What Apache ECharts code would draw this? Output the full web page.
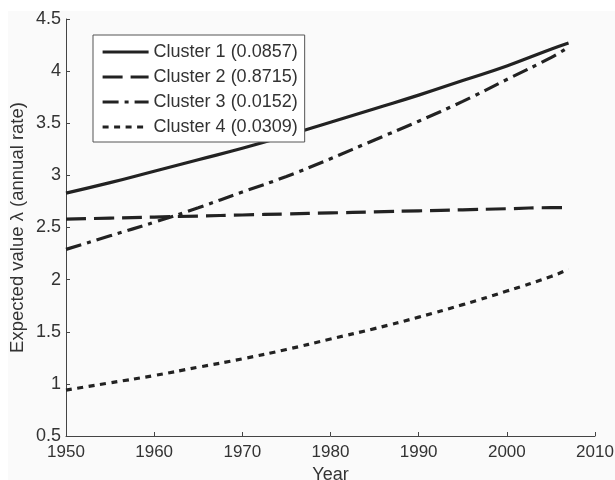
<!DOCTYPE html>
<html>
<head>
<meta charset="utf-8">
<script src="https://cdn.jsdelivr.net/npm/echarts@6/dist/echarts.min.js"></script>
<style>html,body{margin:0;padding:0;background:#fff}#c{width:615px;height:480px}</style>
</head>
<body>
<div id="c"></div>
<script>
const years = [1950, 1955, 1960, 1965, 1970, 1975, 1980, 1985, 1990, 1995, 2000, 2005, 2007];
const cluster1 = [2.83, 2.93, 3.04, 3.15, 3.26, 3.38, 3.51, 3.64, 3.77, 3.91, 4.05, 4.21, 4.27];
const cluster2 = [2.58, 2.59, 2.60, 2.61, 2.62, 2.63, 2.64, 2.65, 2.66, 2.67, 2.68, 2.69, 2.69];
const cluster3 = [2.29, 2.42, 2.55, 2.69, 2.84, 2.99, 3.16, 3.34, 3.52, 3.71, 3.92, 4.13, 4.23];
const cluster4 = [0.94, 1.01, 1.08, 1.16, 1.24, 1.33, 1.43, 1.53, 1.64, 1.76, 1.89, 2.03, 2.10];
const seriesNames = ['Cluster 1 (0.0857)', 'Cluster 2 (0.8715)', 'Cluster 3 (0.0152)', 'Cluster 4 (0.0309)'];
const xTicks = [1950, 1960, 1970, 1980, 1990, 2000, 2010];
const yTicks = [0.5, 1, 1.5, 2, 2.5, 3, 3.5, 4, 4.5];

const allValues = [cluster1, cluster2, cluster3, cluster4];
const dashes = ['solid', [20, 8], [16, 6, 4, 6], [6, 5.5]];
const FONT = 'Liberation Sans';

const chart = echarts.init(document.getElementById('c'));
chart.setOption({
  backgroundColor: '#ffffff',
  animation: false,
  textStyle: { fontFamily: FONT },
  graphic: [{
    type: 'rect', z: -10, silent: true,
    shape: { x: 8, y: 11, width: 607, height: 469 },
    style: { fill: '#fafafa' }
  }],
  grid: { left: 66, right: 20, top: 19, bottom: 44, containLabel: false, outerBoundsMode: 'none' },
  legend: {
    orient: 'vertical',
    left: 93, top: 35,
    padding: [8, 7, 6, 8],
    itemGap: 7,
    itemWidth: 46,
    itemHeight: 18,
    backgroundColor: '#ffffff',
    borderColor: '#555555',
    borderWidth: 1,
    borderRadius: 0,
    textStyle: { fontFamily: FONT, fontSize: 18, color: '#333333' },
    lineStyle: { width: 3.2 },
    itemStyle: { opacity: 0, borderWidth: 0 },
    data: seriesNames
  },
  xAxis: {
    type: 'value',
    min: xTicks[0], max: xTicks[xTicks.length - 1], interval: 10,
    name: 'Year', nameLocation: 'middle', nameGap: 26,
    nameTextStyle: { fontFamily: FONT, fontSize: 18, color: '#333333' },
    axisLine: { show: true, lineStyle: { color: '#444444', width: 1 } },
    axisTick: { show: true, inside: true, length: 4, lineStyle: { color: '#444444' } },
    axisLabel: { fontFamily: FONT, fontSize: 17, color: '#333333', margin: 8,
      formatter: v => String(v) },
    splitLine: { show: false }
  },
  yAxis: {
    type: 'value',
    min: yTicks[0], max: yTicks[yTicks.length - 1], interval: 0.5,
    name: 'Expected value λ (annual rate)', nameLocation: 'middle', nameGap: 39,
    nameMoveOverlap: false,
    nameTextStyle: { fontFamily: FONT, fontSize: 18.5, color: '#333333' },
    axisLine: { show: true, lineStyle: { color: '#444444', width: 1 } },
    axisTick: { show: true, inside: true, length: 4, lineStyle: { color: '#444444' } },
    axisLabel: { fontFamily: FONT, fontSize: 18, color: '#333333', margin: 5 },
    splitLine: { show: false }
  },
  series: allValues.map((vals, i) => ({
    name: seriesNames[i],
    type: 'line',
    symbol: 'none',
    smooth: true,
    data: years.map((y, k) => [y, vals[k]]),
    lineStyle: { color: '#222222', width: 3.2, type: dashes[i], cap: 'butt' },
    itemStyle: { color: '#222222' }
  }))
});
</script>
</body>
</html>
